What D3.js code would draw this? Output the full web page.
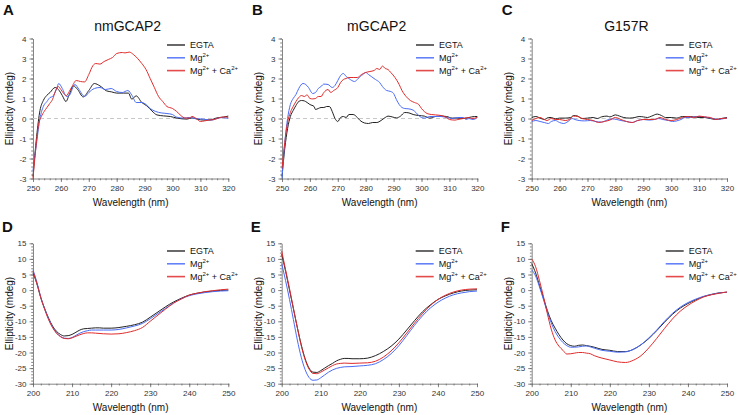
<!DOCTYPE html>
<html>
<head>
<meta charset="utf-8">
<script src="https://cdn.jsdelivr.net/npm/d3@7"></script>
<style>
  body { margin: 0; background: #fff; }
  text { font-family: "Liberation Sans", Arial, sans-serif; }
</style>
</head>
<body>
<div id="fig"></div>
<script>
// near-UV CD (250-320 nm), values in mdeg
const aEGTA = [[250,-2.9],[251.3,-0.9],[252.5,0.4],[253.7,0.9],[254.9,1.15],[256.1,1.3],[257.9,1.55],[259.1,1.45],[260.5,1.15],[261.8,0.85],[263,1.2],[264.5,1.63],[266,1.45],[268,1.08],[270,1.4],[272,1.75],[274,1.63],[276.4,1.38],[278.2,1.33],[280,1.27],[282.4,1.27],[284.2,1.27],[285.4,0.97],[287,1.13],[289,0.8],[290.8,0.63],[292.6,0.38],[294.4,0.18],[296.8,0.13],[299.2,0.1],[301.6,0.02],[305.2,-0.03],[307,0.03],[308.8,-0.03],[311.2,-0.08],[313.5,-0.07],[315.9,0.03],[318.3,0.07],[320,0.12]];
const aMg = [[250,-2.6],[251.3,-1.2],[252.5,0],[253.7,0.6],[255,0.85],[256.1,1.05],[257,1.1],[258.5,1.5],[259.2,1.75],[260.5,1.5],[262,1.1],[263,1.15],[265,1.7],[266.5,1.45],[268.5,1.1],[270,1.3],[272,1.5],[274,1.55],[276,1.45],[278,1.5],[280,1.35],[282,1.3],[284,1.4],[285.5,1.15],[287,0.8],[289,0.8],[290.5,0.7],[292,0.5],[294,0.35],[296,0.28],[298,0.25],[300,0.2],[301,0.1],[302,0.05],[304,0.02],[306,0.05],[308,0],[310,-0.02],[312,-0.05],[314,-0.08],[316,0],[318,0.05],[320,0]];
const aMgCa = [[250,-3],[251,-1.5],[252,-0.3],[253,0.1],[254,0.35],[255,0.55],[256,0.75],[257,0.95],[258,1.35],[259,1.6],[260,1.45],[261,1.25],[262,1.15],[263,1.35],[264,1.6],[265.5,1.9],[267,1.85],[268.5,1.83],[270,2.2],[271.5,2.65],[272.5,2.75],[274,2.72],[275.5,2.85],[277,2.95],[278.5,3.05],[280,3.25],[282,3.3],[283,3.28],[284.5,3.32],[286,3.2],[287.5,3],[289,2.75],[290.5,2.45],[292,2],[293.5,1.55],[295,1.1],[296.5,0.85],[298,0.6],[300,0.5],[301.5,0.35],[303,0.15],[304.5,0.02],[306,0.02],[307,0.1],[308.5,0],[310,-0.15],[311.5,-0.12],[313,-0.08],[315,-0.05],[317,0.05],[319,0.08],[320,0.05]];

const bEGTA = [[250,-2.9],[251,-1.5],[252,-0.5],[253,0.1],[254,0.4],[255,0.65],[256,0.85],[257,0.9],[258,0.88],[259,0.8],[260,0.7],[261.5,0.6],[262,0.45],[263,0.5],[264,0.55],[265,0.55],[266,0.6],[267,0.6],[268,0.35],[269,0],[270,-0.15],[271,0.05],[272,0.1],[273,0.05],[274,0.2],[275.5,0.2],[277,0.05],[278,-0.1],[279.5,-0.22],[281,-0.25],[282.5,-0.2],[284,-0.2],[285.5,-0.1],[287,0.05],[288,0.12],[289.5,0.08],[291,0.03],[292.5,0.12],[294,0.3],[295.5,0.28],[297,0.2],[299,0.15],[301,0.12],[303,0.02],[305,0.1],[307,0.12],[309,0.1],[311,0.02],[313,0.02],[315,0],[317,0.05],[319,0.1],[320,0.1]];
const bMg = [[250,-3],[251,-1.2],[252,0],[253,0.7],[254,1],[255,1.2],[256,1.5],[257.5,1.75],[258.5,1.7],[259.5,1.55],[261,1.25],[262,1.3],[263,1.5],[264,1.6],[265,1.72],[266.5,1.7],[268,1.55],[269,1.65],[270,1.9],[271,2.15],[272,2.25],[273,2.1],[274,2],[275,1.9],[276,1.85],[277,1.95],[278,2.1],[279,2.2],[280,2.3],[281,2.2],[282,2.1],[283.5,1.95],[285,1.8],[286,1.6],[287.5,1.4],[289,1.35],[290,1.25],[291,0.95],[292,0.7],[293,0.55],[294,0.5],[295.5,0.48],[297,0.42],[298,0.3],[299,0.15],[300,0.05],[301,0.02],[303,0.1],[305,0.1],[307,0.1],[309,0.05],[311,0],[313,0.05],[315,0.05],[316,-0.05],[317,0],[318.5,-0.05],[320,0.05]];
const bMgCa = [[250,-2.5],[251,-1.2],[252,-0.2],[253,0.3],[254,0.6],[255,0.85],[256,1.05],[257,1.15],[258,1.1],[259,1.18],[260,1],[261,0.98],[262,1],[263,1.1],[264,1.1],[265,1.3],[266.5,1.45],[267.5,1.3],[268.5,1.4],[270,1.55],[271,1.8],[272,1.95],[273,2],[274,2.05],[275.5,2.05],[277,2.05],[278.5,2.2],[280,2.3],[281.5,2.35],[283,2.4],[284,2.5],[285,2.45],[286,2.62],[287,2.5],[288,2.45],[289,2.3],[290.5,2.05],[292,1.7],[293,1.4],[294.5,1.1],[296,0.9],[297.5,0.8],[299,0.7],[300,0.5],[301,0.35],[302,0.25],[303.5,0.2],[305,0.18],[307,0.15],[309,0.05],[310,-0.05],[312,-0.08],[313,-0.05],[315,0],[317,0.05],[318,0],[320,0.05]];

const cEGTA = [[250,0.05],[251.5,0.1],[253,0.02],[254.5,-0.05],[256,0.05],[257,0.05],[258.5,-0.02],[260,0.02],[262,0.02],[264,0.05],[265,0.15],[266.5,0.12],[268,0],[270,0.02],[272,0.05],[273.5,0],[275,0.08],[277,0.12],[278,0.08],[280,0.18],[281.5,0.12],[283,0.05],[285,0.02],[287,0.05],[288.5,0.1],[290,0.08],[291.5,0.05],[293,0.12],[295,0.22],[296.5,0.15],[298,0.05],[300,0.05],[302,0.02],[304,0.1],[306,0.1],[308,0.08],[310,0.05],[312,0.05],[314,0],[316,-0.05],[318,0],[320,0.05]];
const cMg = [[250,-0.15],[251.5,-0.1],[253,-0.15],[254.5,-0.2],[256,-0.25],[257,-0.15],[258.5,-0.1],[260,-0.2],[261.5,-0.25],[263,-0.15],[264.5,0],[265.5,-0.05],[267,-0.1],[269,-0.12],[271,-0.1],[273,-0.15],[275,-0.18],[277,-0.08],[279,-0.02],[280.5,-0.05],[282,-0.1],[284,-0.15],[286,-0.2],[288,-0.1],[290,-0.05],[292,-0.08],[294,-0.05],[295.5,0],[297,-0.05],[299,-0.1],[300.5,-0.15],[302,-0.12],[303.5,-0.05],[305,0.05],[307,0.05],[309,0.1],[311,0.1],[313,0.05],[315,0],[317,-0.05],[319,0],[320,0.02]];
const cMgCa = [[250,-0.1],[251.5,0],[253,0.05],[254.5,-0.05],[255.5,-0.1],[257,0],[258.5,-0.05],[260,-0.05],[262,-0.1],[263.5,-0.05],[265,0.12],[266.5,0.1],[268,0],[270,-0.05],[272,-0.1],[274,-0.2],[276,-0.15],[278,-0.08],[280,0.05],[282,-0.05],[284,-0.15],[286,-0.2],[288,-0.1],[290,-0.05],[292,-0.05],[294,-0.05],[296,0.05],[298,-0.05],[300,-0.1],[302,-0.05],[304,0.05],[306,0.1],[308,0.05],[310,0.12],[312,0.08],[314,0.05],[316,-0.05],[318,0],[320,0.02]];

// far-UV CD (200-250 nm)
const dEGTA = [[200,5.5],[201,2],[202,-2.5],[203,-6],[204,-9],[205,-11.5],[206,-13.2],[207,-14.2],[208,-14.7],[209,-14.6],[210,-14.2],[211,-13.5],[212,-12.8],[213,-12.4],[214,-12.3],[215,-12.2],[216,-12.1],[217,-12.1],[218,-12.2],[220,-12.2],[222,-12],[224,-11.6],[226,-11.1],[228,-10.3],[230,-8.7],[232,-7],[234,-5.3],[236,-3.8],[238,-2.6],[240,-1.6],[242,-1],[244,-0.6],[246,-0.3],[248,-0.1],[250,0]];
const dMg = [[200,6.5],[201,2.5],[202,-2.3],[203,-6],[204,-9.2],[205,-11.8],[206,-13.7],[207,-14.8],[208,-15.4],[209,-15.5],[210,-15.2],[211,-14.5],[212,-13.8],[213,-13.3],[214,-13],[215,-12.8],[216,-12.8],[218,-12.8],[220,-12.8],[222,-12.6],[224,-12.1],[226,-11.5],[228,-10.7],[230,-9.2],[232,-7.5],[234,-5.8],[236,-4.1],[238,-2.8],[240,-1.8],[242,-1.2],[244,-0.8],[246,-0.5],[248,-0.3],[250,-0.2]];
const dMgCa = [[200,6],[201,2.2],[202,-2.4],[203,-6.2],[204,-9.5],[205,-12],[206,-13.8],[207,-14.9],[208,-15.5],[209,-15.6],[210,-15.3],[211,-14.8],[212,-14.3],[213,-13.9],[214,-13.7],[215,-13.7],[216,-13.8],[218,-14],[220,-14.1],[222,-14],[224,-13.6],[226,-13],[228,-12],[230,-10],[232,-8],[234,-6],[236,-4.2],[238,-2.8],[240,-1.6],[242,-1],[244,-0.5],[246,-0.2],[248,0.1],[250,0.3]];

const eEGTA = [[200,11.5],[201,6],[202,0],[203,-6],[204,-12],[205,-17.5],[206,-22],[207,-25],[208,-26.3],[209,-26.4],[210,-25.8],[211,-25],[212,-24.2],[213,-23.5],[214,-22.7],[215,-22.2],[216,-21.9],[217,-21.9],[218,-22],[220,-22],[222,-21.8],[224,-21],[226,-19.7],[228,-18],[230,-15.7],[232,-12.8],[234,-9.8],[236,-7],[238,-4.8],[240,-3],[242,-1.8],[244,-0.9],[246,-0.3],[248,0],[250,0.1]];
const eMg = [[200,8.5],[201,3],[202,-3],[203,-9.5],[204,-16],[205,-21.5],[206,-25.5],[207,-28],[208,-28.9],[209,-28.8],[210,-28.1],[211,-27.2],[212,-26.3],[213,-25.6],[214,-25.1],[215,-24.8],[216,-24.6],[218,-24.5],[220,-24.3],[222,-24.1],[224,-23.6],[226,-22.3],[228,-20.4],[230,-17.8],[232,-14.6],[234,-11.3],[236,-8.3],[238,-5.8],[240,-3.9],[242,-2.5],[244,-1.5],[246,-0.9],[248,-0.5],[250,-0.3]];
const eMgCa = [[200,12.5],[201,6.5],[202,0.5],[203,-5.8],[204,-12],[205,-17.8],[206,-22.3],[207,-25.3],[208,-26.7],[209,-26.8],[210,-26.3],[211,-25.6],[212,-24.9],[213,-24.2],[214,-23.7],[215,-23.5],[216,-23.4],[218,-23.5],[220,-23.4],[222,-23.3],[224,-22.8],[226,-21.5],[228,-19.5],[230,-16.9],[232,-13.8],[234,-10.6],[236,-7.6],[238,-5],[240,-3],[242,-1.6],[244,-0.6],[246,0],[248,0.3],[250,0.4]];

const fEGTA = [[200,8.5],[201,5.5],[202,1.5],[203,-2.5],[204,-6.5],[205,-9.8],[206,-12.2],[207,-14.3],[208,-16],[209,-17.2],[210,-17.8],[211,-18],[212,-17.7],[213,-17.6],[214,-17.8],[215,-18],[216,-18.3],[218,-19],[220,-19.3],[222,-19.7],[224,-19.7],[226,-19],[228,-17.5],[230,-15.5],[232,-13],[234,-10.3],[236,-7.8],[238,-5.8],[240,-4.3],[242,-3.1],[244,-2.1],[246,-1.4],[248,-0.9],[250,-0.7]];
const fMg = [[200,6.5],[201,4.5],[202,1],[203,-3],[204,-7],[205,-10.5],[206,-13.3],[207,-15.3],[208,-16.8],[209,-17.8],[210,-18.3],[211,-18.3],[212,-18.2],[213,-18],[214,-17.9],[215,-18.2],[216,-18.6],[218,-19.3],[220,-19.6],[222,-19.9],[224,-19.8],[226,-19],[228,-17.5],[230,-15.3],[232,-12.8],[234,-10],[236,-7.5],[238,-5.5],[240,-4],[242,-2.9],[244,-2],[246,-1.4],[248,-0.9],[250,-0.7]];
const fMgCa = [[200,10],[201,7.5],[202,3],[203,-2],[204,-7.5],[205,-12.5],[206,-16],[207,-18],[208,-19.3],[209,-20.5],[210,-20.4],[211,-20.2],[212,-20],[213,-20],[214,-20.2],[215,-20.4],[216,-21],[218,-21.8],[220,-22.4],[222,-23],[224,-23.2],[226,-22.5],[228,-21],[230,-18.5],[232,-15.5],[234,-12.3],[236,-9.3],[238,-6.8],[240,-4.9],[242,-3.4],[244,-2.2],[246,-1.5],[248,-1],[250,-0.6]];

const nearTicksX = [250, 260, 270, 280, 290, 300, 310, 320];
const nearTicksY = [-3, -2, -1, 0, 1, 2, 3, 4];
const farTicksX = [200, 210, 220, 230, 240, 250];
const farTicksY = [-30, -25, -20, -15, -10, -5, 0, 5, 10, 15];

const seriesNames = ["EGTA", "Mg", "MgCa"];
const seriesColors = ["#222222", "#4a6cf7", "#e02c2c"];

const panels = [
  {letter: "A", title: "nmGCAP2", left: 33, top: 38.5, data: [aEGTA, aMg, aMgCa], near: true},
  {letter: "B", title: "mGCAP2", left: 282, top: 38.5, data: [bEGTA, bMg, bMgCa], near: true},
  {letter: "C", title: "G157R", left: 531.7, top: 38.5, data: [cEGTA, cMg, cMgCa], near: true},
  {letter: "D", title: null, left: 33, top: 243.3, data: [dEGTA, dMg, dMgCa], near: false},
  {letter: "E", title: null, left: 281.7, top: 243.3, data: [eEGTA, eMg, eMgCa], near: false},
  {letter: "F", title: null, left: 531.7, top: 243.3, data: [fEGTA, fMg, fMgCa], near: false}
];

const W = 738, H = 415;
const pw = 195.3;
const fmt = d => String(d); // plain hyphen minus like the original
const svg = d3.select("#fig").append("svg").attr("width", W).attr("height", H);

panels.forEach(function(p) {
  const ph = p.near ? 140 : 140.4;
  const xt = p.near ? nearTicksX : farTicksX;
  const yt = p.near ? nearTicksY : farTicksY;
  const x = d3.scaleLinear().domain([xt[0], xt[xt.length - 1]]).range([0, pw]);
  const y = d3.scaleLinear().domain([yt[0], yt[yt.length - 1]]).range([ph, 0]);

  const g = svg.append("g").attr("transform", `translate(${p.left},${p.top})`);

  //minor ticks
  const xMinor = d3.range(xt[0], xt[xt.length - 1] + 0.01, 2);
  const yMinor = p.near ? d3.range(yt[0], yt[yt.length - 1] + 0.01, 0.2) : d3.range(yt[0], yt[yt.length - 1] + 0.01, 1);
  g.append("g").attr("transform", `translate(0,${ph})`)
    .call(d3.axisBottom(x).tickValues(xMinor).tickSize(1.8).tickFormat(""))
    .call(a => a.select(".domain").remove());
  g.append("g")
    .call(d3.axisLeft(y).tickValues(yMinor).tickSize(1.8).tickFormat(""))
    .call(a => a.select(".domain").remove());

  const ax = g.append("g").attr("transform", `translate(0,${ph})`)
    .call(d3.axisBottom(x).tickValues(xt).tickFormat(fmt).tickSize(3.5).tickSizeOuter(0).tickPadding(3));
  const ay = g.append("g")
    .call(d3.axisLeft(y).tickValues(yt).tickFormat(fmt).tickSize(3.5).tickSizeOuter(0).tickPadding(3));
  [ax, ay].forEach(a => {
    a.selectAll("text").attr("font-size", 8).attr("fill", "#333").attr("font-family", "Liberation Sans, Arial, sans-serif");
  });
  g.selectAll(".domain, .tick line").attr("stroke", "#666").attr("stroke-width", 0.8);

  if (p.near) {
    g.append("line")
      .attr("x1", 0).attr("x2", pw)
      .attr("y1", y(0)).attr("y2", y(0))
      .attr("stroke", "#c8c8c8").attr("stroke-width", 1.2)
      .attr("stroke-dasharray", "4,3");
  }

  const line = d3.line()
    .x(d => x(d[0])).y(d => y(d[1]))
    .curve(d3.curveMonotoneX);
  p.data.forEach(function(s, i) {
    g.append("path").datum(s)
      .attr("d", line)
      .attr("fill", "none")
      .attr("stroke", seriesColors[i])
      .attr("stroke-width", 1);
  });

  //legend
  const lg = g.append("g").attr("transform", `translate(134,${p.near ? 6.5 : 7.7})`);
  seriesNames.forEach(function(n, i) {
    const row = lg.append("g").attr("transform", `translate(0,${i * 12.8})`);
    row.append("line").attr("x1", 0).attr("x2", 18).attr("y1", 0).attr("y2", 0)
      .attr("stroke", seriesColors[i]).attr("stroke-width", 1.6).attr("opacity", 0.85);
    const t = row.append("text").attr("x", 23).attr("y", 3).attr("font-size", 9).attr("fill", "#111");
    if (n === "EGTA") {
      t.text("EGTA");
    } else {
      t.append("tspan").text("Mg");
      t.append("tspan").attr("font-size", 6).attr("dy", -3.5).text("2+");
      if (n === "MgCa") {
        t.append("tspan").attr("dy", 3.5).text(" + Ca");
        t.append("tspan").attr("font-size", 6).attr("dy", -3.5).text("2+");
      }
    }
  });

  //axis titles
  g.append("text")
    .attr("x", pw / 2).attr("y", ph + 27)
    .attr("text-anchor", "middle")
    .attr("font-size", 10).attr("fill", "#111")
    .text("Wavelength (nm)");
  g.append("text")
    .attr("transform", `translate(-20,${ph / 2}) rotate(-90)`)
    .attr("text-anchor", "middle")
    .attr("font-size", 10).attr("fill", "#111")
    .text("Ellipticity (mdeg)");

  if (p.title) {
    g.append("text")
      .attr("x", pw / 2 - 3).attr("y", -8)
      .attr("text-anchor", "middle")
      .attr("font-size", 14).attr("fill", "#111")
      .text(p.title);
  }
  g.append("text")
    .attr("x", p.near ? -30 : -31).attr("y", p.near ? -23.5 : -11.5)
    .attr("font-size", 15).attr("font-weight", "bold").attr("fill", "#111")
    .text(p.letter);
});
</script>
</body>
</html>
